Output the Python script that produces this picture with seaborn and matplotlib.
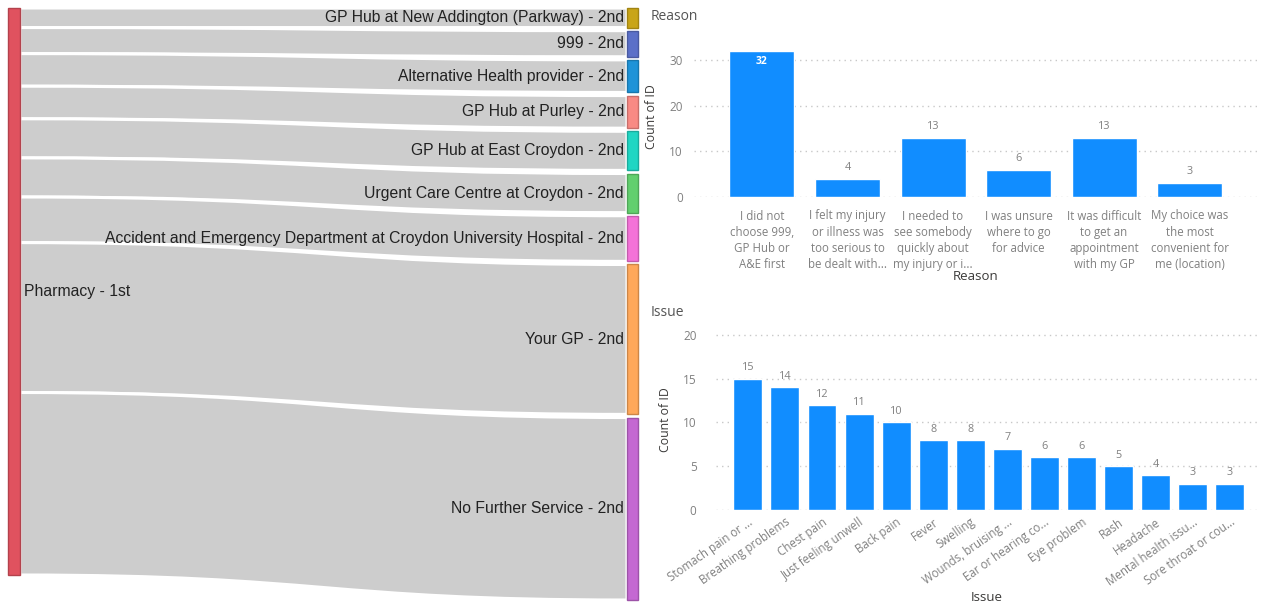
import numpy as np
import pandas as pd
import matplotlib
matplotlib.use("Agg")
import matplotlib.pyplot as plt
from matplotlib.path import Path
from matplotlib.patches import PathPatch, Rectangle
import seaborn as sns

# ---------------- data ----------------
source_label = "Pharmacy - 1st"
target_labels = [
    "GP Hub at New Addington (Parkway) - 2nd",
    "999 - 2nd",
    "Alternative Health provider - 2nd",
    "GP Hub at Purley - 2nd",
    "GP Hub at East Croydon - 2nd",
    "Urgent Care Centre at Croydon - 2nd",
    "Accident and Emergency Department at Croydon University Hospital - 2nd",
    "Your GP - 2nd",
    "No Further Service - 2nd",
]
target_values = [3, 4, 5, 5, 6, 6, 7, 23, 28]
target_colors = ["#C9A517", "#5B70C8", "#1E93D8", "#F98A84", "#1FD6C3",
                 "#62CF6E", "#F472D8", "#FFA85A", "#C468D2"]
source_color = "#E0525F"

reason_labels = [
    "I did not\nchoose 999,\nGP Hub or\nA&E first",
    "I felt my injury\nor illness was\ntoo serious to\nbe dealt with...",
    "I needed to\nsee somebody\nquickly about\nmy injury or i...",
    "I was unsure\nwhere to go\nfor advice",
    "It was difficult\nto get an\nappointment\nwith my GP",
    "My choice was\nthe most\nconvenient for\nme (location)",
]
reason_counts = [32, 4, 13, 6, 13, 3]

issue_labels = [
    "Stomach pain or ...", "Breathing problems", "Chest pain", "Just feeling unwell",
    "Back pain", "Fever", "Swelling", "Wounds, bruising ...", "Ear or hearing co...",
    "Eye problem", "Rash", "Headache", "Mental health issu...", "Sore throat or cou...",
]
issue_counts = [15, 14, 12, 11, 10, 8, 8, 7, 6, 6, 5, 4, 3, 3]

BAR = "#118DFF"
TXT = "#808080"
DARK = "#3B3A39"

sns.set_theme(style="white")
plt.rcParams["font.family"] = ["Open Sans", "DejaVu Sans"]

W, H = 1264, 612
fig = plt.figure(figsize=(W / 100, H / 100), dpi=100)

# ---------------- sankey ----------------
ax = fig.add_axes([0, 0, 640 / W, 1])
ax.set_xlim(0, 640)
ax.set_ylim(H, 0)
ax.axis("off")

top, left_h, right_span = 8.0, 567.0, 592.0
total = sum(target_values)
scale = left_h / total
gap = (right_span - left_h) / (len(target_values) - 1)
lx0, lx1 = 8, 20
rx0, rx1 = 627, 638
xm = (lx1 + rx0) / 2
SFONT = ["Liberation Sans", "DejaVu Sans"]

def darker(c, f=0.8):
    r, g, b = matplotlib.colors.to_rgb(c)
    return (r * f, g * f, b * f)

ly = top
ry = top
for lab, v, col in zip(target_labels, target_values, target_colors):
    h = v * scale
    l0, l1 = ly, ly + h
    r0, r1 = ry, ry + h
    verts = [(lx1, l0), (xm, l0), (xm, r0), (rx0, r0), (rx0, r1),
             (xm, r1), (xm, l1), (lx1, l1), (lx1, l0)]
    codes = [Path.MOVETO, Path.CURVE4, Path.CURVE4, Path.CURVE4, Path.LINETO,
             Path.CURVE4, Path.CURVE4, Path.CURVE4, Path.CLOSEPOLY]
    ax.add_patch(PathPatch(Path(verts, codes), facecolor="#CDCDCD",
                           edgecolor="white", lw=2.2, zorder=1))
    ax.add_patch(Rectangle((rx0, r0), rx1 - rx0, h, facecolor=col,
                           edgecolor=darker(col), lw=1, zorder=3))
    ax.text(rx0 - 3, (r0 + r1) / 2, lab, ha="right", va="center",
            fontsize=11.3, color="#222222", family=SFONT, zorder=4)
    ly = l1
    ry = r1 + gap

ax.add_patch(Rectangle((lx0, top), lx1 - lx0, left_h, facecolor=source_color,
                       edgecolor=darker(source_color), lw=1, zorder=3))
ax.text(lx1 + 4, top + left_h / 2, source_label, ha="left", va="center",
        fontsize=11.3, color="#222222", family=SFONT, zorder=4)

# ---------------- reason chart ----------------
def style_bar_axes(a, yticks, pad):
    for s in a.spines.values():
        s.set_visible(False)
    a.set_yticks(yticks)
    a.yaxis.grid(True, linestyle=(0, (1, 3)), color="#C8C8C8", lw=1)
    a.set_axisbelow(True)
    a.tick_params(axis="y", length=0, labelsize=8.5, labelcolor=TXT, pad=pad)
    a.tick_params(axis="x", length=0, labelsize=8.3, labelcolor=TXT)

ax1 = fig.add_axes([694 / W, 1 - 197 / H, 564 / W, 160 / H])
df_r = pd.DataFrame({"Reason": reason_labels, "Count": reason_counts})
sns.barplot(data=df_r, x="Reason", y="Count", color=BAR, width=0.76,
            saturation=1, ax=ax1)
ax1.set_xlim(-0.795, 5.80)
ax1.set_ylim(0, 35)
style_bar_axes(ax1, [0, 10, 20, 30], 8)
ax1.tick_params(axis="x", pad=9)
ax1.set_ylabel("Count of ID", fontsize=8.8, color=DARK, labelpad=8)
ax1.set_xlabel("Reason", fontsize=9.5, color=DARK, labelpad=-1)
for lbl in ax1.get_xticklabels():
    lbl.set_linespacing(1.33)
for p, v in zip(ax1.patches, reason_counts):
    cx = p.get_x() + p.get_width() / 2
    if v >= 30:
        ax1.text(cx, v - 1.2, str(v), ha="center", va="top", color="white",
                 fontsize=7.5, fontweight="bold")
    else:
        ax1.text(cx, v + 1.3, str(v), ha="center", va="bottom", color=TXT,
                 fontsize=7.8)
fig.text(651 / W, 1 - 16 / H, "Reason", ha="left", va="center", fontsize=10,
         color="#555555")

# ---------------- issue chart ----------------
ax2 = fig.add_axes([716 / W, 1 - 510 / H, 542 / W, 180 / H])
df_i = pd.DataFrame({"Issue": issue_labels, "Count": issue_counts})
sns.barplot(data=df_i, x="Issue", y="Count", color=BAR, width=0.78,
            saturation=1, ax=ax2)
ax2.set_xlim(-0.86, 13.76)
ax2.set_ylim(0, 20.57)
style_bar_axes(ax2, [0, 5, 10, 15, 20], 14)
ax2.set_ylabel("Count of ID", fontsize=8.8, color=DARK, labelpad=8)
ax2.set_xlabel("Issue", fontsize=9.5, color=DARK, labelpad=2)
ax2.tick_params(axis="x", pad=4)
for lbl in ax2.get_xticklabels():
    lbl.set_rotation(35)
    lbl.set_ha("right")
    lbl.set_rotation_mode("anchor")
for p, v in zip(ax2.patches, issue_counts):
    cx = p.get_x() + p.get_width() / 2
    ax2.text(cx, v + 0.6, str(v), ha="center", va="bottom", color=TXT,
             fontsize=7.8)
fig.text(651 / W, 1 - 313 / H, "Issue", ha="left", va="center", fontsize=10,
         color="#555555")

fig.savefig("out.png", dpi=100)
